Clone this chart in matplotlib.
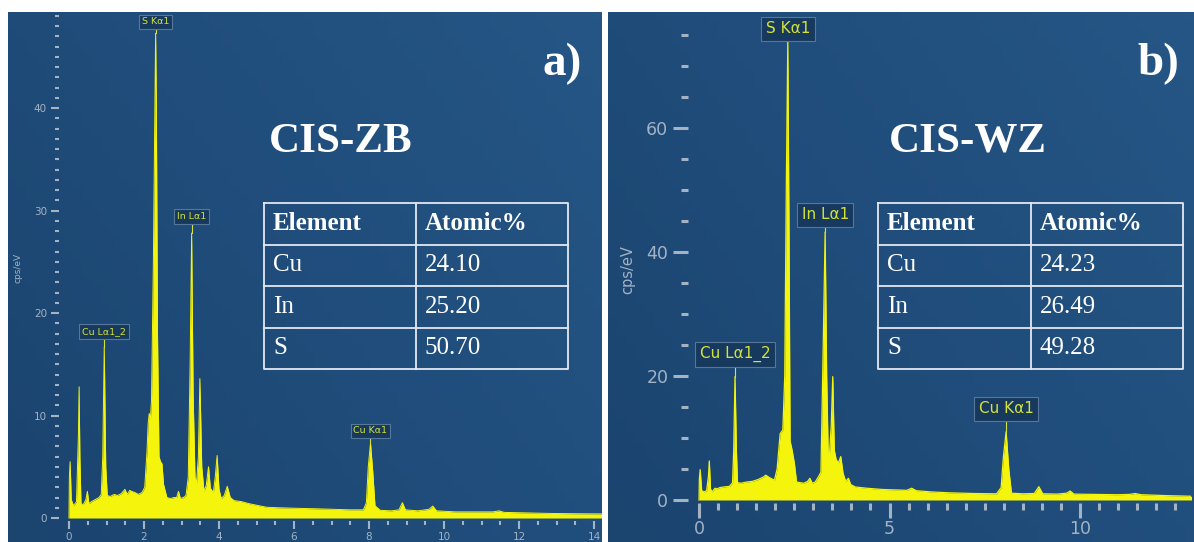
import numpy as np
import matplotlib
matplotlib.use("Agg")
import matplotlib.pyplot as plt
from matplotlib.ticker import MultipleLocator
from matplotlib.colors import LinearSegmentedColormap

W, H = 1194, 542
YEL = "#f4f40c"; LBL = "#d4e33c"; TICK = "#a3b3c4"
BOXF = "#17395e"; BOXE = "#56779a"
SERIF = "Liberation Serif"

# ---- spectrum a) CIS-ZB  (keV, cps/eV)
energy_a = [0.00, 0.01, 0.03, 0.06, 0.12, 0.20, 0.25, 0.27, 0.29, 0.32, 0.38, 0.45, 0.49, 0.53,
            0.60, 0.70, 0.80, 0.86, 0.90, 0.94, 0.98, 1.02, 1.10, 1.20, 1.30, 1.40, 1.49, 1.55,
            1.62, 1.67, 1.75, 1.85, 1.95, 2.02, 2.08, 2.11, 2.14, 2.17, 2.20, 2.25, 2.29, 2.31,
            2.33, 2.36, 2.40, 2.44, 2.48, 2.52, 2.61, 2.70, 2.80, 2.87, 2.92, 2.97, 3.05, 3.12,
            3.18, 3.23, 3.27, 3.31, 3.36, 3.40, 3.45, 3.49, 3.54, 3.60, 3.66, 3.72, 3.77, 3.85,
            3.90, 3.95, 4.00, 4.06, 4.14, 4.22, 4.30, 4.40, 4.60, 4.80, 5.00, 5.27, 5.60, 6.16,
            6.60, 7.05, 7.50, 7.85, 7.93, 7.98, 8.04, 8.10, 8.16, 8.30, 8.60, 8.80, 8.89, 8.97,
            9.30, 9.60, 9.70, 9.80, 10.30, 10.80, 11.30, 11.47, 11.60, 12.20, 12.80, 13.50, 14.20]
cps_a = [0.0, 4.0, 5.5, 1.8, 1.2, 1.6, 8.0, 12.8, 6.0, 1.4, 1.3, 1.8, 2.6, 1.4,
         1.6, 1.8, 2.0, 2.3, 6.0, 16.7, 5.0, 2.2, 2.1, 2.3, 2.2, 2.4, 2.8, 2.3,
         2.7, 2.6, 2.5, 2.3, 2.5, 3.0, 6.5, 9.2, 10.2, 9.6, 11.5, 25.0, 40.0, 47.3,
         40.0, 18.0, 6.0, 5.5, 5.3, 3.3, 2.0, 1.9, 2.0, 2.0, 2.6, 1.9, 2.0, 2.2,
         4.0, 15.0, 27.8, 12.0, 4.0, 3.4, 6.0, 13.6, 5.0, 2.6, 3.2, 5.0, 2.9, 2.5,
         4.0, 6.1, 2.8, 1.9, 2.2, 3.1, 2.0, 1.7, 1.6, 1.4, 1.25, 1.05, 1.0, 0.94,
         0.9, 0.85, 0.8, 0.8, 1.5, 5.0, 7.3, 4.5, 1.2, 0.75, 0.7, 0.8, 1.5, 0.8,
         0.7, 0.85, 1.17, 0.7, 0.6, 0.6, 0.6, 0.7, 0.55, 0.5, 0.45, 0.42, 0.4]

# ---- spectrum b) CIS-WZ
energy_b = [0.00, 0.01, 0.03, 0.07, 0.13, 0.20, 0.25, 0.27, 0.30, 0.34, 0.42, 0.47, 0.55, 0.65,
            0.80, 0.88, 0.91, 0.945, 0.98, 1.01, 1.10, 1.25, 1.40, 1.55, 1.69, 1.75, 1.85, 1.98,
            2.05, 2.13, 2.20, 2.25, 2.29, 2.33, 2.36, 2.39, 2.44, 2.50, 2.56, 2.65, 2.75, 2.85,
            2.91, 2.97, 3.05, 3.14, 3.20, 3.26, 3.31, 3.35, 3.39, 3.42, 3.47, 3.51, 3.55, 3.60,
            3.66, 3.72, 3.78, 3.85, 3.92, 3.98, 4.10, 4.40, 4.80, 5.28, 5.45, 5.58, 5.70, 6.10,
            6.60, 7.20, 7.81, 7.93, 7.99, 8.06, 8.13, 8.20, 8.50, 8.80, 8.92, 9.02, 9.40, 9.65,
            9.74, 9.84, 10.40, 11.00, 11.30, 11.45, 11.60, 12.30, 12.95]
cps_b = [0.0, 3.5, 4.9, 1.5, 1.3, 1.5, 4.0, 6.3, 1.8, 1.3, 1.9, 1.8, 2.0, 2.1,
         2.2, 2.8, 8.0, 19.9, 8.0, 2.8, 2.7, 2.9, 3.0, 3.3, 3.7, 4.0, 3.6, 3.2,
         5.0, 10.7, 11.3, 20.0, 50.0, 74.0, 45.0, 9.5, 8.1, 6.0, 2.9, 2.8, 2.7, 3.0,
         3.5, 2.7, 2.9, 3.8, 4.5, 25.0, 43.2, 20.0, 7.5, 7.0, 12.0, 19.9, 8.0, 6.5,
         6.0, 7.0, 4.3, 3.0, 3.5, 2.5, 2.1, 1.9, 1.7, 1.6, 1.55, 1.9, 1.5, 1.3,
         1.15, 1.05, 1.0, 2.0, 7.0, 11.0, 5.0, 1.1, 1.0, 1.05, 2.15, 1.0, 0.95, 1.1,
         1.45, 0.95, 0.9, 0.85, 0.9, 1.05, 0.85, 0.7, 0.6]

# ---- peak labels
peak_names = ["S Kα1", "In Lα1", "Cu Lα1_2", "Cu Kα1"]
peak_e_a = [2.31, 3.27, 0.94, 8.04]
peak_top_a = [47.3, 27.8, 16.7, 7.3]
peak_e_b = [2.33, 3.31, 0.945, 8.06]
peak_top_b = [74.0, 43.2, 19.9, 11.0]

# ---- tables
elements = ["Cu", "In", "S"]
atomic_a = ["24.10", "25.20", "50.70"]
atomic_b = ["24.23", "26.49", "49.28"]


def rect(l, t, r, b):
    return [l / W, 1 - b / H, (r - l) / W, (b - t) / H]


bg_cmap = LinearSegmentedColormap.from_list("bg", ["#1b446f", "#204d7b", "#255685"])


def background(fig, l, t, r, b):
    bx = fig.add_axes(rect(l, t, r, b), zorder=0)
    gx, gy = np.meshgrid(np.linspace(0, 1, 64), np.linspace(0, 1, 64))
    bx.imshow(0.6 * gx + 0.4 * (1 - gy), cmap=bg_cmap, aspect="auto", extent=[0, 1, 0, 1])
    bx.axis("off")


def spectrum(fig, box, E, C, xlim, ylim, xmaj, ymaj, ymin, big):
    ax = fig.add_axes(rect(*box), zorder=1)
    ax.patch.set_alpha(0)
    ax.fill_between(E, 0, C, color=YEL, lw=0, zorder=2)
    ax.plot(E, C, color=YEL, lw=0.9 if big else 0.7, zorder=2)
    ax.set_xlim(*xlim); ax.set_ylim(*ylim)
    for s in ax.spines.values():
        s.set_visible(False)
    ax.xaxis.set_major_locator(MultipleLocator(xmaj)); ax.xaxis.set_minor_locator(MultipleLocator(0.5))
    ax.yaxis.set_major_locator(MultipleLocator(ymaj)); ax.yaxis.set_minor_locator(MultipleLocator(ymin))
    if big:
        ax.spines["left"].set_position(("outward", 1))
        ax.tick_params(which="major", length=10.8, width=2.2, colors=TICK, labelsize=12.5, labelcolor=TICK)
        ax.tick_params(which="minor", length=5, width=2.2, colors=TICK)
        ax.tick_params(axis="x", which="major", pad=1.5)
        ax.tick_params(axis="y", which="major", pad=3.5)
    else:
        ax.spines["left"].set_position(("outward", 2))
        ax.tick_params(which="major", length=5.5, width=1.5, colors=TICK, labelsize=7.5, labelcolor=TICK)
        ax.tick_params(which="minor", length=3.2, width=1.5, colors=TICK)
        ax.tick_params(axis="x", which="major", pad=2)
        ax.tick_params(axis="y", which="major", pad=3)
    return ax


def label(ax, x, top, ybox, text, fs):
    ax.plot([x, x], [top, ybox], color=LBL, lw=0.8, zorder=3)
    ax.text(x, ybox, text, ha="center", va="center", color=LBL, fontsize=fs, zorder=4,
            bbox=dict(boxstyle="square,pad=0.3", fc=BOXF, ec=BOXE, lw=0.8))


def table(ov, x0, xs, x1, y0, y1, vals):
    rh = (y1 - y0) / 4
    kw = dict(color="#e4e9ef", lw=1.3, zorder=6)
    ov.plot([x0, x1, x1, x0, x0], [y0, y0, y1, y1, y0], **kw)
    ov.plot([xs, xs], [y0, y1], **kw)
    for i in range(1, 4):
        ov.plot([x0, x1], [y0 + i * rh] * 2, **kw)
    tk = dict(color="white", fontsize=18, family=SERIF, va="center", zorder=7)
    ov.text(x0 + 9, y0 + rh / 2, "Element", weight="bold", **tk)
    ov.text(xs + 9, y0 + rh / 2, "Atomic%", weight="bold", **tk)
    for i, (el, v) in enumerate(zip(elements, vals)):
        yc = y0 + (i + 1.5) * rh
        ov.text(x0 + 9, yc, el, **tk)
        ov.text(xs + 9, yc, v, **tk)


fig = plt.figure(figsize=(W / 100, H / 100), dpi=100, facecolor="white")
background(fig, 8, 12, 602, 542)
background(fig, 608, 12, 1194, 542)

ax_a = spectrum(fig, (61.5, 12.7, 601.5, 521.1), energy_a, cps_a, (-0.2, 14.2), (-0.3, 49.3), 2, 10, 1, False)
for n, e, t, yb in zip(peak_names, peak_e_a, peak_top_a, [48.4, 29.4, 18.2, 8.5]):
    label(ax_a, e, t, yb, n, 6.8)

ax_b = spectrum(fig, (689.5, 12, 1190.5, 503.1), energy_b, cps_b, (-0.25, 12.9), (-0.5, 78.7), 5, 20, 5, True)
for n, e, t, yb in zip(peak_names, peak_e_b, peak_top_b, [76.0, 46.0, 23.5, 14.7]):
    label(ax_b, e, t, yb, n, 11)

ov = fig.add_axes([0, 0, 1, 1], zorder=5)
ov.set_xlim(0, W); ov.set_ylim(H, 0); ov.axis("off")
ov.text(18, 268, "cps/eV", rotation=90, ha="center", va="center", color=TICK, fontsize=6.5)
ov.text(628, 270, "cps/eV", rotation=90, ha="center", va="center", color=TICK, fontsize=10.5)
ov.text(341, 142, "CIS-ZB", ha="center", va="center", color="white", fontsize=31, weight="bold", family=SERIF)
ov.text(968, 142, "CIS-WZ", ha="center", va="center", color="white", fontsize=31, weight="bold", family=SERIF)
ov.text(562, 64, "a)", ha="center", va="center", color="white", fontsize=34, weight="bold", family=SERIF)
ov.text(1158, 64, "b)", ha="center", va="center", color="white", fontsize=34, weight="bold", family=SERIF)
table(ov, 264, 416, 568, 203, 369, atomic_a)
table(ov, 878, 1031, 1183, 203, 369, atomic_b)

fig.savefig("out.png", dpi=100, facecolor="white")
